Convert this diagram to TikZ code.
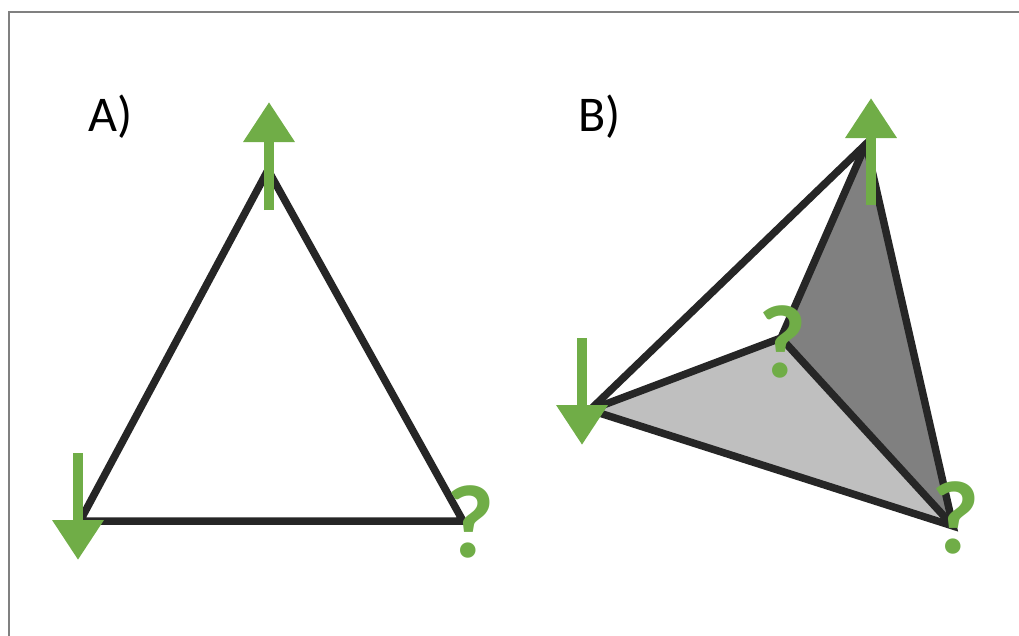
\documentclass[tikz,border=0pt]{standalone}
\usepackage{fontspec}
\setmainfont{Carlito}
\usetikzlibrary{arrows.meta}
\definecolor{grn}{HTML}{70AD47}
\definecolor{edge}{HTML}{262626}
\definecolor{darkface}{HTML}{808080}
\definecolor{lightface}{HTML}{BFBFBF}
\definecolor{framegray}{HTML}{808080}
\tikzset{
  edgeline/.style={draw=edge, line width=7.5pt, line join=miter},
  garrow/.style={draw=grn, line width=10pt, -{Triangle[length=40pt,width=49pt]}},
  qmark/.style={text=grn, font=\bfseries\fontsize{104}{104}\selectfont, inner sep=0pt, anchor=base},
  panel/.style={font=\fontsize{50}{50}\selectfont, inner sep=0pt, anchor=base west},
}
\begin{document}
\begin{tikzpicture}[x=1pt,y=-1pt]
\useasboundingbox (0,0) rectangle (1019,635);
% frame
\draw[framegray, line width=2pt] (8.5,640) -- (8.5,11.5) -- (1025,11.5);

% ---------- Panel A ----------
\node[panel] (la) at (88,131) {A)};
\coordinate (at) at (268,170);
\coordinate (al) at (80,521);
\coordinate (ar) at (463,521);
\draw[edgeline] (at) -- (al) -- (ar) -- cycle;
\coordinate (aus) at (269,210);
\coordinate (aue) at (269,102);
\draw[garrow] (aus) -- (aue);
\coordinate (ads) at (78,453);
\coordinate (ade) at (78,560);
\draw[garrow] (ads) -- (ade);
\node[qmark] (qa) at (471,557) {?};

% ---------- Panel B ----------
\node[panel] (lb) at (578,131) {B)};
\coordinate (bt) at (866,144);
\coordinate (bl) at (590,410);
\coordinate (bm) at (781,338);
\coordinate (br) at (953,526);
\fill[lightface] (bl) -- (bm) -- (br) -- cycle;
\fill[darkface] (bt) -- (bm) -- (br) -- cycle;
\draw[edgeline] (bl) -- (bt) -- (br) -- cycle;
\draw[edgeline] (bl) -- (bm) -- (bt);
\draw[edgeline] (bm) -- (br);
\coordinate (bus) at (871,205);
\coordinate (bue) at (871,98);
\draw[garrow] (bus) -- (bue);
\coordinate (bds) at (582,338);
\coordinate (bde) at (582,445);
\draw[garrow] (bds) -- (bde);
\node[qmark] (qb1) at (783,377) {?};
\node[qmark] (qb2) at (956,553) {?};
\end{tikzpicture}
\end{document}
